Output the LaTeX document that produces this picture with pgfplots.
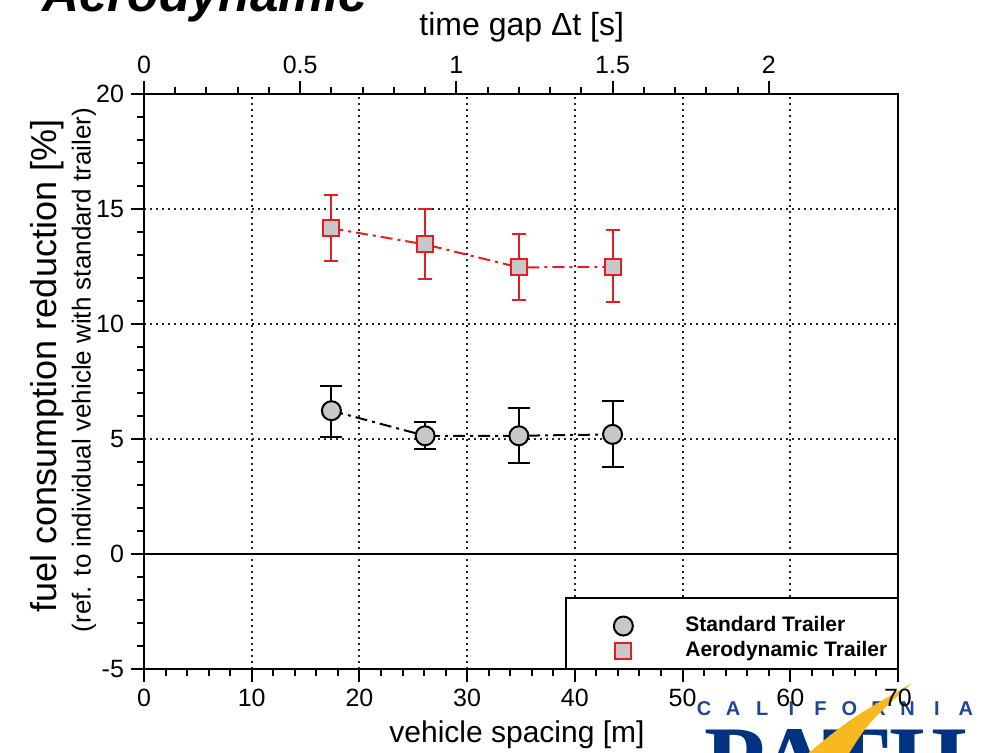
\documentclass[border=0pt]{standalone}
\usepackage{pgfplots}
\usepackage{pgfplotstable}
\pgfplotsset{compat=1.18}
\usepackage{fontspec}
\setmainfont{Liberation Sans}
\newfontfamily\seriffont{Liberation Serif}
\definecolor{redline}{RGB}{225,30,35}
\definecolor{markfill}{RGB}{200,200,200}
\definecolor{pathblue}{RGB}{0,50,130}
\definecolor{calblue}{RGB}{30,70,150}
\definecolor{swoosh}{RGB}{248,185,30}
\pgfplotsset{markonly legend/.style={legend image code/.code={\path (-6pt,0pt) (29pt,0pt); \draw[##1, solid] plot coordinates {(0pt,0pt)};}}}

\pgfplotstableread{
x y ep em
17.4 14.16 1.44 1.42
26.1 13.46 1.53 1.52
34.8 12.46 1.44 1.40
43.5 12.49 1.60 1.52
}\aero
\pgfplotstableread{
x y ep em
17.4 6.23 1.06 1.13
26.1 5.14 0.61 0.57
34.8 5.14 1.21 1.17
43.5 5.20 1.44 1.43
}\std

\begin{document}
\begin{tikzpicture}
% logo (background)
\foreach \l [count=\i from 0] in {C,A,L,I,F,O,R,N,I,A}
  \node[anchor=base, inner sep=0pt, font=\fontsize{10}{11}\selectfont\bfseries, text=calblue] at (352pt+\i*14.55pt,18.5pt) {\l};
\node[anchor=base west, inner sep=0pt, font=\seriffont\fontsize{50}{50}\selectfont\bfseries, text=pathblue] at (352pt,-21.5pt) {PATH};
\fill[swoosh] (403pt,-1pt) .. controls (425pt,17pt) .. (456pt,35pt) .. controls (434pt,15pt) .. (424pt,-1pt) -- cycle;

% title (cut off)
\node[anchor=base west, inner sep=0pt, font=\fontsize{25.6}{30}\selectfont\bfseries\itshape] at (21pt,370.5pt) {Aerodynamic};

\begin{axis}[
  at={(72pt,42pt)}, anchor=south west,
  scale only axis, width=377pt, height=287.5pt,
  xmin=0, xmax=70, ymin=-5, ymax=20,
  xtick={0,10,...,70}, minor x tick num=4,
  ytick={-5,0,...,20}, minor y tick num=4,
  xtick pos=bottom, ytick pos=left, tick align=outside,
  major tick length=6.5pt, minor tick length=3.5pt,
  every tick/.style={black, line width=1pt},
  axis line style={line width=1.3pt},
  grid=major,
  major grid style={dash pattern=on 1pt off 2pt, black!85, line width=1pt},
  /pgf/number format/assume math mode=true,
  tick label style={font=\fontsize{12.5}{14}\selectfont},
  xlabel={vehicle spacing [m]},
  xlabel style={font=\fontsize{15}{18}\selectfont, at={(axis description cs:0.4947,-0.1148)}, anchor=center},
  ylabel={fuel consumption reduction [\%]},
  ylabel style={font=\fontsize{18}{21}\selectfont, at={(axis description cs:-0.1286,0.527)}, anchor=center},
  markonly legend,
  legend style={draw=none, fill=none, inner sep=0pt, at={(axis description cs:0.618,0.053)}, anchor=west,
    font=\fontsize{10.5}{12}\selectfont\bfseries,
    nodes={text height=7.5pt, text depth=2pt, inner sep=1.5pt, anchor=west}},
  legend cell align=left,
]
\draw[line width=1.2pt] (axis cs:0,0) -- (axis cs:70,0);

\addplot[black, line width=1pt, dash pattern=on 6pt off 2.5pt on 1.5pt off 2.5pt,
  mark=*, mark size=4.75pt, mark options={solid, fill=markfill, draw=black, line width=1pt},
  error bars/.cd, y dir=both, y explicit,
  error bar style={solid, line width=1pt, black},
  error mark options={rotate=90, solid, mark size=5.5pt, line width=1pt, black}]
  table[x=x, y=y, y error plus=ep, y error minus=em] {\std};

\addplot[redline, line width=1pt, dash pattern=on 6pt off 2.5pt on 1.5pt off 2.5pt,
  mark=square*, mark size=4pt, mark options={solid, fill=markfill, draw=redline, line width=1pt},
  error bars/.cd, y dir=both, y explicit,
  error bar style={solid, line width=1pt, redline},
  error mark options={rotate=90, solid, mark size=3.5pt, line width=1pt, redline}]
  table[x=x, y=y, y error plus=ep, y error minus=em] {\aero};

\draw[line width=1.2pt, fill=white] (axis cs:39.2,-5) rectangle (axis cs:70,-1.91);

\legend{}
\addlegendimage{black, mark=*, mark size=4.75pt, mark options={solid, fill=markfill, draw=black, line width=1pt}}
\addlegendentry{Standard Trailer}
\addlegendimage{redline, mark=square*, mark size=4pt, mark options={solid, fill=markfill, draw=redline, line width=1pt}}
\addlegendentry{Aerodynamic Trailer}
\end{axis}

\begin{axis}[
  at={(72pt,42pt)}, anchor=south west,
  scale only axis, width=377pt, height=287.5pt,
  xmin=0, xmax=2.41379, ymin=-5, ymax=20,
  axis x line*=top, hide y axis,
  xtick={0,0.5,1,1.5,2}, minor x tick num=4,
  tick align=outside,
  major tick length=6.5pt, minor tick length=3.5pt,
  every tick/.style={black, line width=1pt},
  axis line style={line width=1.3pt},
  /pgf/number format/assume math mode=true,
  tick label style={font=\fontsize{12.5}{14}\selectfont},
  xlabel={time gap Δt [s]},
  xlabel style={font=\fontsize{16}{19}\selectfont, at={(axis description cs:0.501,1.1165)}, anchor=center},
]
\end{axis}

\node[rotate=90, font=\fontsize{13}{15}\selectfont] at (42pt,191.5pt) {(ref. to individual vehicle with standard trailer)};

\pgfresetboundingbox
\path[use as bounding box] (0pt,0pt) rectangle (492pt,376.5pt);
\end{tikzpicture}
\end{document}
